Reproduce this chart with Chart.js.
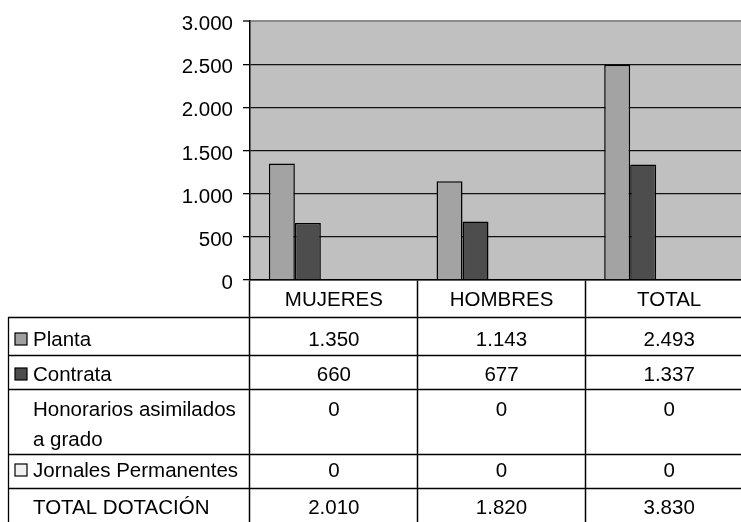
<!DOCTYPE html>
<html>
<head>
<meta charset="utf-8">
<script src="https://cdn.jsdelivr.net/npm/chart.js@4.4.1/dist/chart.umd.min.js"></script>
<style>
  html, body { margin: 0; padding: 0; background: #fff; overflow: hidden; }
  #wrap { width: 741px; height: 522px; overflow: hidden; }
  canvas { display: block; }
</style>
</head>
<body>
<div id="wrap"><canvas id="c" width="753" height="522"></canvas></div>
<script>
// Dotación de personal por sexo
const categories = ['MUJERES', 'HOMBRES', 'TOTAL'];
const planta = [1350, 1143, 2493];
const contrata = [660, 677, 1337];
const honorarios = [0, 0, 0];
const jornales = [0, 0, 0];
const totalDotacion = [2010, 1820, 3830];
const yTicks = [0, 500, 1000, 1500, 2000, 2500, 3000];

const FONT = '20.5px "Liberation Sans", Arial, sans-serif';

function fmt(n) {
  return String(n).replace(/\B(?=(\d{3})+(?!\d))/g, '.');
}

function drawText(ctx, str, x, y, align) {
  ctx.save();
  ctx.font = FONT;
  ctx.fillStyle = '#000';
  ctx.textAlign = align;
  ctx.textBaseline = 'alphabetic';
  ctx.fillText(str, x, y);
  ctx.restore();
}

// Data table rows under the axis
const tableRows = [
  { label: ['Planta'], key: '#a0a0a0', values: planta, top: 317, base: 346 },
  { label: ['Contrata'], key: '#4d4d4d', values: contrata, top: 355, base: 381 },
  { label: ['Honorarios asimilados', 'a grado'], key: null, values: honorarios, top: 389, base: 416 },
  { label: ['Jornales Permanentes'], key: '#f0f0f0', values: jornales, top: 454, base: 477 },
  { label: ['TOTAL DOTACIÓN'], key: null, values: totalDotacion, top: 488, base: 514 }
];

const plotBackground = {
  id: 'plotBackground',
  beforeDraw(chart) {
    const { ctx, chartArea: a } = chart;
    ctx.save();
    ctx.fillStyle = '#c0c0c0';
    ctx.fillRect(a.left, a.top, a.right - a.left, a.bottom - a.top);
    ctx.restore();
  }
};

const dataTable = {
  id: 'dataTable',
  afterDraw(chart) {
    const { ctx } = chart;
    const xs = chart.scales.x;
    const ys = chart.scales.y;
    const right = chart.width;

    // y tick labels
    ys.ticks.forEach(t => {
      const y = ys.getPixelForValue(t.value);
      drawText(ctx, fmt(t.value), 233, y + 9, 'right');
    });

    // category header
    categories.forEach((c, i) => {
      drawText(ctx, c, xs.getPixelForValue(i), 306, 'center');
    });

    // horizontal rules and left border
    ctx.save();
    ctx.strokeStyle = '#000';
    ctx.lineWidth = 1.3;
    ctx.beginPath();
    tableRows.forEach(r => {
      ctx.moveTo(8, r.top + 0.5);
      ctx.lineTo(right, r.top + 0.5);
    });
    ctx.moveTo(8.5, 317);
    ctx.lineTo(8.5, 522);
    ctx.stroke();
    ctx.restore();

    // row contents
    tableRows.forEach(r => {
      if (r.key) {
        ctx.save();
        ctx.fillStyle = r.key;
        ctx.strokeStyle = '#000';
        ctx.lineWidth = 1.2;
        ctx.fillRect(15, r.base - 13, 12, 12);
        ctx.strokeRect(15, r.base - 13, 12, 12);
        ctx.restore();
      }
      r.label.forEach((line, k) => {
        drawText(ctx, line, 33, r.base + k * 30, 'left');
      });
      r.values.forEach((v, i) => {
        drawText(ctx, fmt(v), xs.getPixelForValue(i), r.base, 'center');
      });
    });
  }
};

new Chart(document.getElementById('c'), {
  type: 'bar',
  data: {
    labels: categories,
    datasets: [
      { label: 'Planta', data: planta, backgroundColor: '#a3a3a3', borderColor: '#000', borderWidth: 1.5 },
      { label: 'Contrata', data: contrata, backgroundColor: '#4d4d4d', borderColor: '#000', borderWidth: 1.5 },
      { label: 'Honorarios asimilados a grado', data: honorarios, backgroundColor: 'rgba(0,0,0,0)', borderWidth: 0 },
      { label: 'Jornales Permanentes', data: jornales, backgroundColor: '#f0f0f0', borderWidth: 0 },
      // unfilled series: keeps its slot in each group
      { label: 'TOTAL DOTACIÓN', data: totalDotacion, backgroundColor: 'rgba(0,0,0,0)', borderWidth: 0 }
    ]
  },
  options: {
    responsive: false,
    animation: false,
    events: [],
    layout: { padding: { top: 21, right: 0, left: 0, bottom: 0 } },
    categoryPercentage: 0.775,
    barPercentage: 1,
    plugins: { legend: { display: false }, tooltip: { enabled: false } },
    scales: {
      x: {
        ticks: { display: false },
        grid: {
          drawOnChartArea: false,
          drawTicks: true,
          tickLength: 250,
          tickColor: '#000',
          tickWidth: 1.5
        },
        border: { display: true, color: '#000', width: 1.5 },
        afterFit(s) { s.height = 242; }
      },
      y: {
        min: 0,
        max: 3000,
        afterBuildTicks(s) { s.ticks = yTicks.map(v => ({ value: v })); },
        ticks: { display: false },
        grid: {
          color: c => (c.tick && c.tick.value === 3000 ? '#8a8a8a' : '#111'),
          lineWidth: c => (c.tick && c.tick.value === 3000 ? 2 : 1.3),
          drawTicks: true,
          tickLength: 7,
          tickColor: '#000',
          tickWidth: 1.3
        },
        border: { display: true, color: '#000', width: 1.5 },
        afterFit(s) { s.width = 250; }
      }
    }
  },
  plugins: [plotBackground, dataTable]
});
</script>
</body>
</html>
